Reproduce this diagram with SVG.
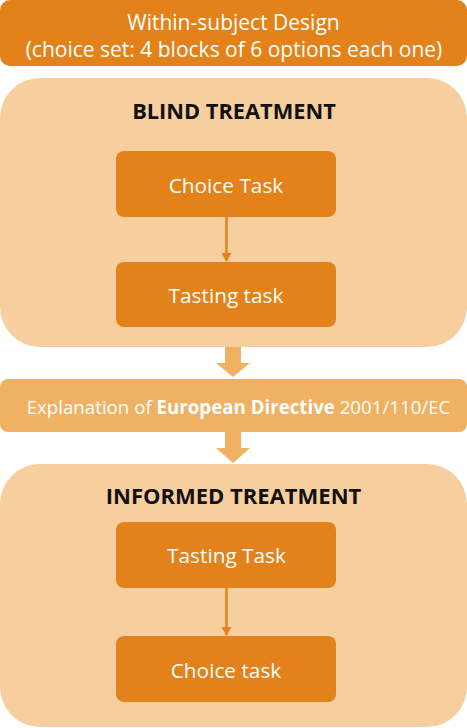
<svg xmlns="http://www.w3.org/2000/svg" width="467" height="728" viewBox="0 0 467 728">
<style>
.dark{fill:#E3821A}
.panel{fill:#F7CF9E}
.mid{fill:#F0B163}
.wt{font-family:"Open Sans","DejaVu Sans",sans-serif;fill:#FFFFFF;text-anchor:middle}
.bt{font-family:"Open Sans","DejaVu Sans",sans-serif;font-weight:bold;fill:#111111;text-anchor:middle}
.thin{stroke:#E3821A;stroke-width:2.5;fill:none}
</style>
<defs>
<marker id="ah" markerWidth="10" markerHeight="10" refX="8" refY="5" orient="auto" markerUnits="userSpaceOnUse">
<path d="M0,0 L9,5 L0,10 Z" fill="#E3821A"/>
</marker>
</defs>
<g id="design">
<rect class="dark" x="0" y="0" width="467" height="66" rx="10"/>
<text class="wt" x="233.5" y="30" font-size="21">Within-subject Design</text>
<text class="wt" x="234" y="57" font-size="21">(choice set: 4 blocks of 6 options each one)</text>
</g>
<g id="blind">
<rect class="panel" x="0" y="78" width="467" height="269" rx="40"/>
<text class="bt" x="234" y="119" font-size="21.8">BLIND TREATMENT</text>
</g>
<g id="blind-choice">
<rect class="dark" x="116" y="151" width="220" height="66" rx="8"/>
<text class="wt" x="226" y="193" font-size="20.8">Choice Task</text>
</g>
<g id="blind-tasting">
<rect class="dark" x="116" y="262" width="220" height="65" rx="8"/>
<text class="wt" x="226" y="302.5" font-size="20.8">Tasting task</text>
</g>
<g id="explanation">
<rect class="mid" x="0" y="379" width="467" height="53" rx="8"/>
<text class="wt" x="238.5" y="414" font-size="18.7">Explanation of <tspan font-weight="bold">European Directive</tspan> 2001/110/EC</text>
</g>
<g id="informed">
<rect class="panel" x="0" y="464" width="467" height="263" rx="40"/>
<text class="bt" x="233.5" y="504" font-size="22">INFORMED TREATMENT</text>
</g>
<g id="informed-tasting">
<rect class="dark" x="116" y="522" width="220" height="66" rx="8"/>
<text class="wt" x="226.5" y="563" font-size="20.8">Tasting Task</text>
</g>
<g id="informed-choice">
<rect class="dark" x="116" y="636" width="220" height="66" rx="8"/>
<text class="wt" x="226" y="678" font-size="20.8">Choice task</text>
</g>
<g id="connectors">
<line class="thin" x1="226.5" y1="217" x2="226.5" y2="261" marker-end="url(#ah)"/>
<line class="thin" x1="226.5" y1="588" x2="226.5" y2="635" marker-end="url(#ah)"/>
<path class="mid" d="M225,347 L241,347 L241,363 L250,363 L233,377 L216,363 L225,363 Z"/>
<path class="mid" d="M225,432 L241,432 L241,448 L250,448 L233,463 L216,448 L225,448 Z"/>
</g>
</svg>
